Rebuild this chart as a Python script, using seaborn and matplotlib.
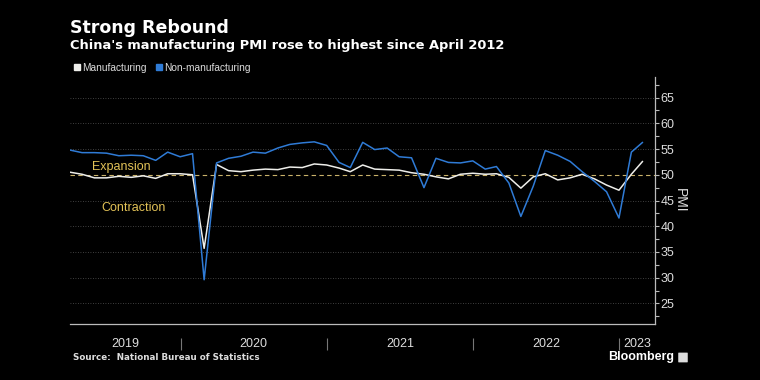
import numpy as np
import pandas as pd
from matplotlib import pyplot as plt
import matplotlib.dates as mdates
from matplotlib.patches import FancyBboxPatch
from matplotlib.lines import Line2D
import seaborn as sns

# Dados mensais (mar/2019 a fev/2023), valor no fim do mes
start_month = "2019-03-01"
manufacturing = [
    50.5, 50.1, 49.4, 49.4, 49.7, 49.5, 49.8, 49.3, 50.2, 50.2,
    50.0, 35.7, 52.0, 50.8, 50.6, 50.9, 51.1, 51.0, 51.5, 51.4, 52.1, 51.9,
    51.3, 50.6, 51.9, 51.1, 51.0, 50.9, 50.4, 50.1, 49.6, 49.2, 50.1, 50.3,
    50.1, 50.2, 49.5, 47.4, 49.6, 50.2, 49.0, 49.4, 50.1, 49.2, 48.0, 47.0,
    50.1, 52.6,
]
non_manufacturing = [
    54.8, 54.3, 54.3, 54.2, 53.7, 53.8, 53.7, 52.8, 54.4, 53.5,
    54.1, 29.6, 52.3, 53.2, 53.6, 54.4, 54.2, 55.2, 55.9, 56.2, 56.4, 55.7,
    52.4, 51.4, 56.3, 54.9, 55.2, 53.5, 53.3, 47.5, 53.2, 52.4, 52.3, 52.7,
    51.1, 51.6, 48.4, 41.9, 47.8, 54.7, 53.8, 52.6, 50.6, 48.7, 46.7, 41.6,
    54.4, 56.3,
]
years = [2019, 2020, 2021, 2022, 2023]
y_ticks = [25, 30, 35, 40, 45, 50, 55, 60, 65]

dates = pd.date_range(start_month, periods=len(manufacturing), freq="MS") + pd.offsets.MonthEnd(0)
df = pd.DataFrame({
    "date": np.concatenate([dates, dates]),
    "pmi": manufacturing + non_manufacturing,
    "serie": ["Manufacturing"] * len(dates) + ["Non-manufacturing"] * len(dates),
})

BG = "#000000"
WHITE = "#eeeeea"
BLUE = "#2f7bd6"
GOLD = "#e2c257"
GRAY = "#bbbbbb"
TXT = "#dddddd"
NARROW = ["Liberation Sans", "DejaVu Sans"]

sns.set_style("dark")
plt.rcParams["font.family"] = ["DejaVu Sans"]

fig = plt.figure(figsize=(7.6, 3.8), dpi=100, facecolor=BG)
ax = fig.add_axes([70 / 760, 1 - 324 / 380, 585 / 760, 247 / 380])
ax.set_facecolor(BG)

sns.lineplot(data=df, x="date", y="pmi", hue="serie",
             palette={"Manufacturing": WHITE, "Non-manufacturing": BLUE},
             linewidth=1.1, legend=False, ax=ax, zorder=3)

x_min = pd.Timestamp("2019-03-31")
x_max = pd.Timestamp("2023-03-31")
ax.set_xlim(x_min, x_max)
ax.set_ylim(21, 69)

# grade pontilhada e linha de 50
for v in y_ticks:
    if v != 50:
        ax.axhline(v, color="#555555", lw=0.6, ls=(0, (1, 2)), zorder=1)
ax.axhline(50, color="#c9b26a", lw=0.8, ls=(0, (4, 3)), zorder=2)
ax.grid(False)

# eixo y a direita
ax.yaxis.tick_right()
ax.yaxis.set_label_position("right")
ax.set_yticks(y_ticks)
ax.set_yticks(np.arange(22.5, 69, 5), minor=True)
ax.tick_params(axis="y", which="both", colors=GRAY, labelcolor=TXT,
               labelsize=9, direction="out", length=3, width=0.8, pad=1,
               right=True, left=False)
for lab in ax.get_yticklabels():
    lab.set_family(NARROW)
ax.set_ylabel("PMI", color=TXT, fontsize=10, rotation=270, labelpad=9, family=NARROW)

# eixo x: ticks mensais e separadores de ano
ax.xaxis.set_minor_locator(mdates.MonthLocator())
ax.xaxis.set_major_locator(mdates.YearLocator())
ax.xaxis.set_major_formatter(plt.NullFormatter())
ax.tick_params(axis="x", which="both", colors=GRAY, direction="out", length=2.5, width=0.8)
ax.set_xlabel("")

sep_dates = [pd.Timestamp(f"{y}-01-01") for y in years[1:]]
ax.vlines(sep_dates, -0.055, -0.105, color="#777777", lw=0.8,
          transform=ax.get_xaxis_transform(), clip_on=False)
for y in years:
    a = max(pd.Timestamp(f"{y}-01-01"), x_min)
    b = min(pd.Timestamp(f"{y + 1}-01-01"), x_max)
    mid = a + (b - a) / 2
    ax.text(mid, -0.08, str(y), transform=ax.get_xaxis_transform(),
            ha="center", va="center", color=TXT, fontsize=9, family=NARROW)

for side in ["top", "left"]:
    ax.spines[side].set_visible(False)
for side in ["bottom", "right"]:
    ax.spines[side].set_color(GRAY)
    ax.spines[side].set_linewidth(0.9)

# rotulos de expansao / contracao
ax.text(pd.Timestamp("2019-08-05"), 51.6, "Expansion", color=GOLD, fontsize=9,
        ha="center", va="center", family=NARROW)
ax.text(pd.Timestamp("2019-09-05"), 43.6, "Contraction", color=GOLD, fontsize=9,
        ha="center", va="center", family=NARROW)

# titulos
fig.text(70 / 760, 1 - 28 / 380, "Strong Rebound", color="white", fontsize=12.5,
         fontweight="bold", ha="left", va="center")
fig.text(70 / 760, 1 - 46 / 380, "China's manufacturing PMI rose to highest since April 2012",
         color="white", fontsize=9.4, fontweight="bold", ha="left", va="center")

# legenda
handles = [
    Line2D([], [], marker="s", ls="", color=WHITE, markersize=5),
    Line2D([], [], marker="s", ls="", color=BLUE, markersize=5),
]
fig.legend(handles, ["Manufacturing", "Non-manufacturing"], loc="center left",
           bbox_to_anchor=(74 / 760, 1 - 68 / 380), ncol=2, frameon=False,
           prop={"family": NARROW, "size": 7.3}, labelcolor=TXT,
           handlelength=0.6, handletextpad=0.2,
           columnspacing=0.9, borderpad=0, borderaxespad=0)

# fonte e marca
fig.text(73 / 760, 1 - 358 / 380, "Source:  National Bureau of Statistics", color=TXT,
         fontsize=6.3, fontweight="bold", ha="left", va="center")
fig.text(674 / 760, 1 - 357 / 380, "Bloomberg", color="white", fontsize=9,
         fontweight="bold", ha="right", va="center", family=NARROW)
fig.patches.append(FancyBboxPatch((679 / 760, 1 - 362 / 380), 8 / 760, 9 / 380,
                                  boxstyle="round,pad=0.001", transform=fig.transFigure,
                                  facecolor=TXT, edgecolor="none"))

plt.savefig("out.png", dpi=100, facecolor=BG)
